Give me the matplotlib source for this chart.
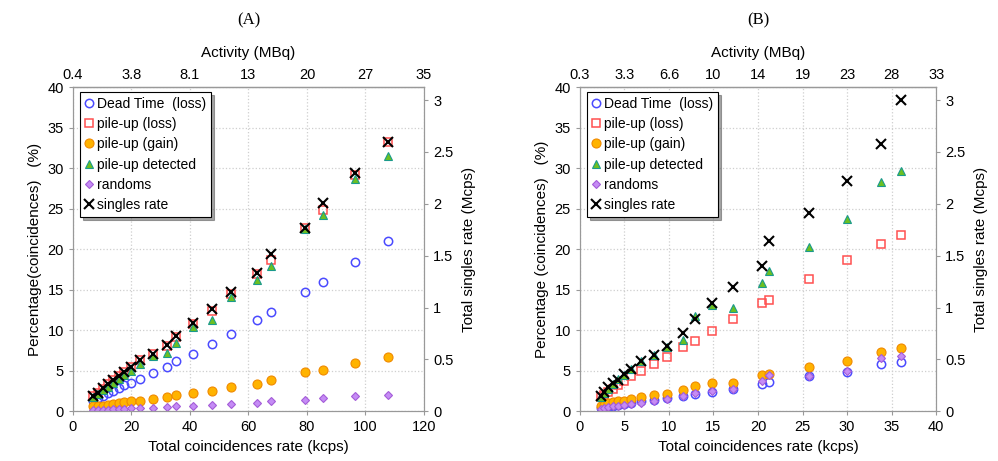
import matplotlib.pyplot as plt
import matplotlib
from matplotlib.ticker import FuncFormatter

matplotlib.rcParams['font.family'] = ['Liberation Sans', 'DejaVu Sans']

# ---- panel A data (kcps / % / Mcps) ----
xA = [7.0, 8.5, 10.3, 12.0, 13.7, 15.7, 17.5, 19.8, 22.9, 27.2, 32.0, 35.4,
      41.1, 47.4, 53.9, 62.8, 67.7, 79.5, 85.6, 96.4, 107.6]
deadA = [1.3, 1.6, 1.9, 2.2, 2.5, 2.9, 3.2, 3.5, 4.0, 4.7, 5.4, 6.2,
         7.05, 8.25, 9.5, 11.3, 12.3, 14.7, 16.0, 18.4, 21.0]
pulossA = [1.9, 2.3, 2.8, 3.3, 3.8, 4.4, 4.9, 5.5, 6.3, 7.0, 8.0, 9.1,
           10.8, 12.4, 14.5, 16.9, 18.7, 22.6, 24.8, 29.1, 33.2]
pugainA = [0.6, 0.65, 0.7, 0.8, 0.9, 1.0, 1.1, 1.2, 1.3, 1.5, 1.7, 2.0,
           2.3, 2.5, 3.0, 3.4, 3.8, 4.8, 5.1, 6.0, 6.7]
pudetA = [1.7, 2.1, 2.6, 3.0, 3.5, 4.0, 4.5, 5.0, 5.8, 6.8, 7.2, 8.45,
          10.4, 11.3, 14.1, 16.2, 17.9, 22.5, 24.2, 28.7, 31.5]
randA = [0.1, 0.15, 0.2, 0.2, 0.25, 0.3, 0.3, 0.35, 0.4, 0.45, 0.5, 0.6,
         0.7, 0.75, 0.85, 1.0, 1.3, 1.4, 1.6, 1.9, 2.0]
singA = [0.15, 0.18, 0.22, 0.26, 0.30, 0.34, 0.38, 0.43, 0.49, 0.55, 0.64, 0.73,
         0.85, 0.99, 1.15, 1.33, 1.52, 1.77, 2.01, 2.30, 2.60]
actA = ['0.4', '3.8', '8.1', '13', '20', '27', '35']

# ---- panel B data ----
xB = [2.4, 2.7, 3.2, 3.7, 4.3, 5.0, 5.8, 6.9, 8.35, 9.8, 11.6, 12.9,
      14.8, 17.2, 20.4, 21.2, 25.7, 30.0, 33.8, 36.1]
deadB = [0.4, 0.5, 0.6, 0.7, 0.8, 0.9, 1.0, 1.2, 1.4, 1.6, 1.9, 2.1,
         2.4, 2.7, 3.4, 3.6, 4.3, 4.9, 5.8, 6.1]
pulossB = [1.7, 2.0, 2.4, 2.7, 3.2, 3.7, 4.3, 5.0, 5.8, 6.7, 7.9, 8.7,
           9.85, 11.4, 13.3, 13.7, 16.3, 18.7, 20.6, 21.7]
pugainB = [0.6, 0.8, 1.0, 1.1, 1.2, 1.3, 1.5, 1.7, 2.0, 2.1, 2.6, 3.1,
           3.5, 3.5, 4.5, 4.6, 5.4, 6.2, 7.3, 7.8]
pudetB = [1.8, 2.3, 2.8, 3.3, 4.0, 4.5, 5.2, 6.2, 6.9, 7.9, 8.8, 11.7,
          13.1, 12.8, 15.8, 17.3, 20.3, 23.7, 28.3, 29.7]
randB = [0.3, 0.4, 0.5, 0.6, 0.7, 0.8, 0.9, 1.0, 1.3, 1.5, 1.9, 2.2,
         2.5, 2.8, 3.7, 4.5, 4.4, 5.0, 6.6, 6.8]
singB = [0.15, 0.19, 0.23, 0.27, 0.30, 0.36, 0.41, 0.48, 0.54, 0.63, 0.75, 0.89,
         1.04, 1.20, 1.40, 1.64, 1.91, 2.22, 2.58, 3.00]
actB = ['0.3', '3.3', '6.6', '10', '14', '19', '23', '28', '33']

labels = ['Dead Time  (loss)', 'pile-up (loss)', 'pile-up (gain)',
          'pile-up detected', 'randoms', 'singles rate']

fig = plt.figure(figsize=(9.98, 4.61), dpi=100)

def panel(rect, x, dead, loss, gain, det, rnd, sing, xmax, xstep, act,
          title, ylab):
    ax = fig.add_axes(rect)
    ax.set_xlim(0, xmax)
    ax.set_ylim(0, 40)
    ax.set_xticks(range(0, xmax + 1, xstep))
    ax.set_yticks(range(0, 41, 5))
    ax.grid(True, color='#cfcfcf', linestyle=':', linewidth=0.9)
    ax.set_axisbelow(True)
    for s in ax.spines.values():
        s.set_color('#999999')
    ax.tick_params(colors='#999999', labelcolor='black', labelsize=10.5, length=3)
    ax.set_xlabel('Total coincidences rate (kcps)', fontsize=11, labelpad=4)
    ax.set_ylabel(ylab, fontsize=11, labelpad=4)

    h = []
    h.append(ax.plot(x, dead, 'o', ms=6, mfc='none', mec='#4a4aff', mew=1.1)[0])
    h.append(ax.plot(x, loss, 's', ms=6, mfc='none', mec='#ff5050', mew=1.1)[0])
    h.append(ax.plot(x, gain, 'o', ms=6.5, mfc='#ffb300', mec='#f08a00', mew=0.8)[0])
    h.append(ax.plot(x, det, '^', ms=6, mfc='#6cc020', mec='#1a9a8c', mew=0.8)[0])
    h.append(ax.plot(x, rnd, 'D', ms=4.5, mfc='#c58cf5', mec='#a45cd8', mew=0.8)[0])

    ax2 = ax.twinx()
    ax2.set_ylim(0, 3.125)
    ax2.set_yticks([0, 0.5, 1, 1.5, 2, 2.5, 3])
    ax2.yaxis.set_major_formatter(FuncFormatter(lambda v, p: '%g' % v))
    ax2.tick_params(colors='#999999', labelcolor='black', labelsize=10.5, length=3)
    for s in ax2.spines.values():
        s.set_color('#999999')
    h.append(ax2.plot(x, sing, 'x', ms=7, mec='black', mew=1.5)[0])
    ax2.set_ylabel('Total singles rate (Mcps)', fontsize=11, labelpad=6)

    top = ax.secondary_xaxis('top')
    top.set_xticks(range(0, xmax + 1, xstep))
    top.set_xticklabels(act)
    top.tick_params(colors='#999999', labelcolor='black', labelsize=10.5, length=0)
    top.set_xlabel('Activity (MBq)', fontsize=11, labelpad=8)

    leg = ax2.legend(h, labels, loc='upper left', bbox_to_anchor=(0.02, 0.985),
                     fontsize=10, frameon=True, fancybox=False, shadow=True,
                     handlelength=0.6, handletextpad=0.3, borderpad=0.35,
                     labelspacing=0.45, borderaxespad=0)
    leg.get_frame().set_edgecolor('black')
    leg.get_frame().set_linewidth(0.8)

    fig.text(rect[0] + rect[2] / 2, 0.955, title, ha='center', va='center',
             fontsize=12, family='Liberation Serif')

panel([0.0731, 0.108, 0.3517, 0.703], xA, deadA, pulossA, pugainA, pudetA,
      randA, singA, 120, 20, actA, '(A)', 'Percentage(coincidences)   (%)')
panel([0.581, 0.108, 0.357, 0.703], xB, deadB, pulossB, pugainB, pudetB,
      randB, singB, 40, 5, actB, '(B)', 'Percentage (coincidences)   (%)')

plt.savefig('out.png', dpi=100)
